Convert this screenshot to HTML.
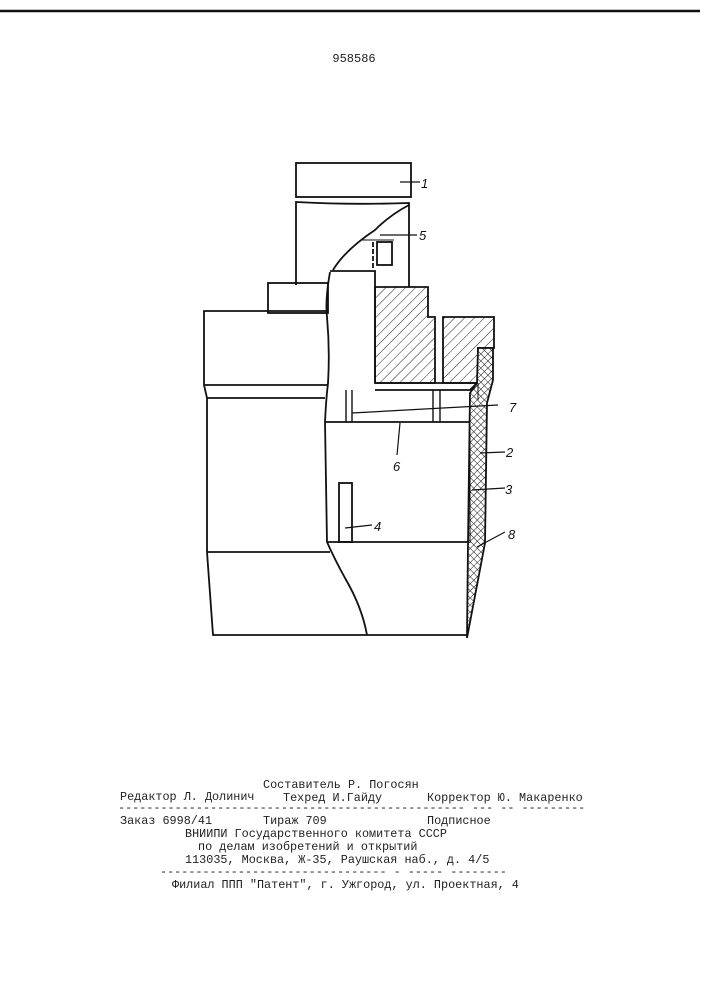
<!DOCTYPE html>
<html><head><meta charset="utf-8"><style>
html,body{margin:0;padding:0;background:#fff;width:707px;height:1000px;overflow:hidden}
svg{position:absolute;left:0;top:0}
</style></head><body>
<svg width="707" height="1000" viewBox="0 0 707 1000" xmlns="http://www.w3.org/2000/svg">
<defs>
<pattern id="h" width="7" height="7" patternUnits="userSpaceOnUse" patternTransform="rotate(45)">
<line x1="0" y1="0" x2="0" y2="7" stroke="#222" stroke-width="1"/></pattern>
<pattern id="x" width="5" height="5" patternUnits="userSpaceOnUse" patternTransform="rotate(45)">
<rect width="5" height="5" fill="#fff"/>
<line x1="0" y1="0" x2="0" y2="5" stroke="#111" stroke-width="1"/>
<line x1="0" y1="0" x2="5" y2="0" stroke="#111" stroke-width="1"/></pattern>
</defs>
<line x1="0" y1="11" x2="700" y2="11" stroke="#111" stroke-width="2.5"/>
<text x="354" y="62" font-family="Liberation Mono, monospace" font-size="12" text-anchor="middle" fill="#222">958586</text>
<g fill="none" stroke="#111" stroke-width="1.8">
<rect x="296" y="163" width="115" height="34" fill="#fff"/>
<path d="M296 285 L296 202 Q350 205 409 203 L409 287"/>
<path d="M409 205 Q390 215 375 230 Q345 250 333 270" />
<rect x="377" y="242" width="15" height="23"/>
<line x1="373" y1="242" x2="373" y2="270" stroke-dasharray="5,2"/>
<line x1="362" y1="240" x2="394" y2="240" stroke-width="1"/>
<path d="M330 271 L375 271 L375 383"/>
<path d="M330 272 Q325 300 327 317 Q330 350 328 383 Q326 400 325 422"/>
<rect x="268" y="283" width="60" height="30"/>
<path d="M328 311 L204 311 L204 385 L207 398 L207 552 L213 635 L467 635"/>
<line x1="204" y1="385" x2="328" y2="385"/>
<line x1="207" y1="398" x2="325" y2="398"/>
<line x1="207" y1="552" x2="330" y2="552"/>
<path d="M325 422 L327 542 Q335 560 345 578 Q362 607 367 635"/>
<path d="M375 287 L428 287 L428 317 L435 317 L435 383 L375 383 Z" fill="url(#h)"/>
<path d="M443 317 L494 317 L494 348 L478 348 L478 383 L443 383 Z" fill="url(#h)"/>
<path d="M375 383 L477 383 L470 390 L375 390"/>
<path d="M478 348 L493 348 L493 380 L487 403 L485 543 L467 638 L468 543 L470 393 L477 383 Z" fill="url(#x)"/>
<path d="M478 383 L478 400 M470 395 L470 543" stroke-width="1"/>
<line x1="346" y1="390" x2="346" y2="422" stroke-width="1.4"/>
<line x1="352" y1="390" x2="352" y2="422" stroke-width="1.4"/>
<line x1="433" y1="390" x2="433" y2="422" stroke-width="1.4"/>
<line x1="440" y1="390" x2="440" y2="422" stroke-width="1.4"/>
<path d="M325 422 L470 422"/>
<path d="M327 542 L468 542"/>
<rect x="339" y="483" width="13" height="59"/>
</g>
<g stroke="#111" stroke-width="1.2" fill="none">
<line x1="400" y1="182" x2="420" y2="182"/>
<line x1="380" y1="235" x2="417" y2="235"/>
<line x1="352" y1="413" x2="498" y2="405"/>
<line x1="400" y1="423" x2="397" y2="455"/>
<line x1="480" y1="453" x2="505" y2="452"/>
<line x1="472" y1="490" x2="505" y2="488"/>
<line x1="477" y1="547" x2="505" y2="532"/>
<line x1="345" y1="528" x2="372" y2="525"/>
</g>
<g font-family="Liberation Sans, sans-serif" font-size="13" font-style="italic" fill="#111">
<text x="421" y="188">1</text>
<text x="419" y="240">5</text>
<text x="509" y="412">7</text>
<text x="393" y="471">6</text>
<text x="506" y="457">2</text>
<text x="505" y="494">3</text>
<text x="508" y="539">8</text>
<text x="374" y="531">4</text>
</g>
<g font-family="Liberation Mono, monospace" font-size="11.8" fill="#222" xml:space="preserve">
<text x="263" y="788">Составитель Р. Погосян</text>
<text x="120" y="800">Редактор Л. Долинич</text>
<text x="283" y="801">Техред И.Гайду</text>
<text x="427" y="801">Корректор Ю. Макаренко</text>
<text x="118" y="811">------------------------------------------------- --- -- ---------</text>
<text x="120" y="824">Заказ 6998/41</text>
<text x="263" y="824">Тираж 709</text>
<text x="427" y="824">Подписное</text>
<text x="185" y="837">ВНИИПИ Государственного комитета СССР</text>
<text x="198" y="850">по делам изобретений и открытий</text>
<text x="185" y="863">113035, Москва, Ж-35, Раушская наб., д. 4/5</text>
<text x="160" y="875">-------------------------------- - ----- --------</text>
<text x="172" y="888">Филиал ППП "Патент", г. Ужгород, ул. Проектная, 4</text>
</g>
</svg>
</body></html>
